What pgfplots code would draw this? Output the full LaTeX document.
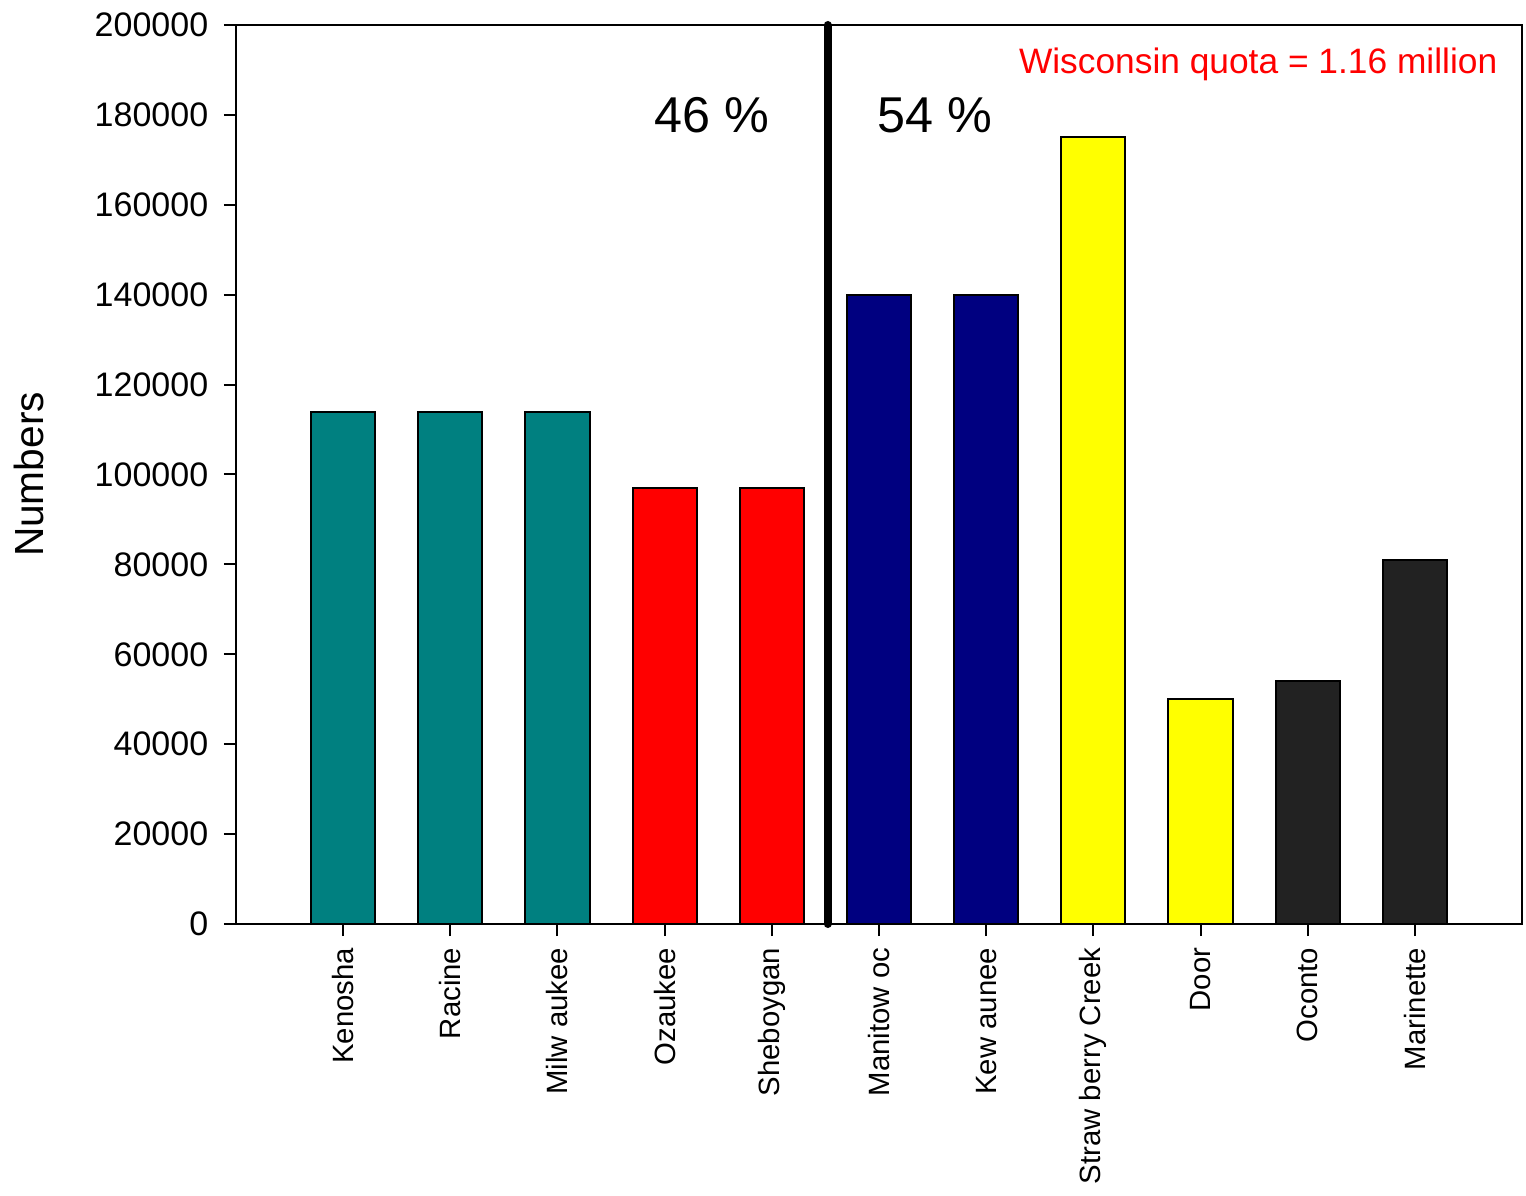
\documentclass[border=0pt]{standalone}
\usepackage{fontspec}
\setmainfont{Liberation Sans}
\usepackage{pgfplots}
\pgfplotsset{compat=1.18}

\definecolor{tealbar}{RGB}{0,128,128}
\definecolor{navybar}{RGB}{0,0,128}
\definecolor{darkbar}{RGB}{34,34,34}
\definecolor{yellowbar}{RGB}{255,255,0}

\begin{document}
\begin{tikzpicture}
\begin{axis}[
    width=385.8pt, height=269.7pt, scale only axis,
    xmin=0, xmax=12, ymin=0, ymax=200000,
    xtick={1,...,11},
    xticklabels={Kenosha,Racine,Milw aukee,Ozaukee,Sheboygan,Manitow oc,Kew aunee,Straw berry Creek,Door,Oconto,Marinette},
    ytick={0,20000,...,200000},
    scaled y ticks=false,
    /pgf/number format/assume math mode=true,
    yticklabel style={/pgf/number format/fixed, /pgf/number format/1000 sep={},
        font=\fontsize{10.2}{12}\selectfont, xshift=-1.2pt},
    xticklabel style={rotate=90, anchor=east, font=\fontsize{8.8}{10}\selectfont},
    tick align=outside, xtick pos=left, ytick pos=left,
    major tick length=3.6pt,
    axis line style={line width=0.6pt},
    tick style={black, line width=0.6pt},
    ylabel={Numbers},
    ylabel style={at={(axis description cs:-0.161,0.5)}, anchor=center,
        font=\fontsize{12.2}{14}\selectfont},
    clip=false,
]
\addplot[ybar, bar shift=0pt, bar width=0.6, fill=tealbar, draw=black, line width=0.6pt]
    coordinates {(1,114000) (2,114000) (3,114000)};
\addplot[ybar, bar shift=0pt, bar width=0.6, fill=red, draw=black, line width=0.6pt]
    coordinates {(4,97000) (5,97000)};
\addplot[ybar, bar shift=0pt, bar width=0.6, fill=navybar, draw=black, line width=0.6pt]
    coordinates {(6,140000) (7,140000)};
\addplot[ybar, bar shift=0pt, bar width=0.6, fill=yellowbar, draw=black, line width=0.6pt]
    coordinates {(8,175000) (9,50000)};
\addplot[ybar, bar shift=0pt, bar width=0.6, fill=darkbar, draw=black, line width=0.6pt]
    coordinates {(10,54000) (11,81000)};
\addplot[black, line width=2.4pt, line cap=round] coordinates {(5.52,0) (5.52,200000)};
\node[font=\fontsize{15.1}{18}\selectfont] at (axis cs:4.44,180000) {46 \%};
\node[font=\fontsize{15.1}{18}\selectfont] at (axis cs:6.52,180000) {54 \%};
\node[anchor=east, text=red, inner sep=0pt, font=\fontsize{10.6}{13}\selectfont]
    at (axis cs:11.775,191300) {Wisconsin quota = 1.16 million};
\path (rel axis cs:-0.1835,-0.2937) rectangle (rel axis cs:1.0031,1.0278);
\end{axis}
\end{tikzpicture}
\end{document}
